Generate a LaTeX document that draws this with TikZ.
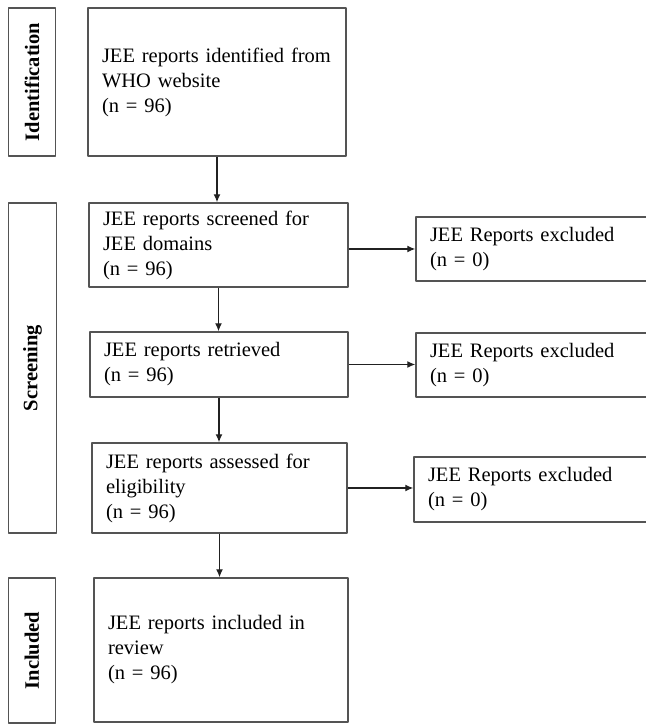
\documentclass[tikz,border=0pt]{standalone}
\usepackage{fontspec}
\setmainfont{Liberation Serif}
\usetikzlibrary{arrows.meta}

\begin{document}
\begin{tikzpicture}[>={Latex[length=8bp,width=7bp]},line join=bevel,
  stagelabel/.style={draw=boxcol,line width=1.4bp,rotate=90,inner sep=0pt,
    font=\fontsize{20.5bp}{25bp}\selectfont\bfseries},
  flowbox/.style={draw=boxcol,line width=1.4bp,inner xsep=14bp,inner ysep=0pt,
    align=left,font=\fontsize{20.5bp}{25bp}\selectfont},
  flowedge/.style={->,draw=edgecol,line width=1.3bp}]
\definecolor{boxcol}{rgb}{0.33,0.33,0.33}
\definecolor{edgecol}{rgb}{0.13,0.13,0.13}
\useasboundingbox (0bp,0bp) rectangle (646bp,725bp);

% Node: stage labels
\node[stagelabel,minimum width=148bp,minimum height=47bp] (identlab) at (32bp,643bp) {Identification};
\node[stagelabel,minimum width=330bp,minimum height=48bp] (screenlab) at (32.5bp,357bp) {Screening};
\node[stagelabel,minimum width=145bp,minimum height=47bp] (incllab) at (32bp,74.5bp) {Included};

% Node: identified
\node[flowbox,text width=230bp,minimum height=148bp] (identified) at (217bp,643bp)
  {JEE reports identified from\\WHO website\\(n = 96)};

% Node: screened
\node[flowbox,text width=231bp,minimum height=84bp] (screened) at (218.5bp,480bp)
  {JEE reports screened for\\JEE domains\\(n = 96)};

% Node: retrieved
\node[flowbox,text width=230bp,minimum height=65bp] (retrieved) at (219bp,360.5bp)
  {JEE reports retrieved\\(n = 96)};

% Node: assessed
\node[flowbox,text width=227bp,minimum height=90bp] (assessed) at (219.5bp,237bp)
  {JEE reports assessed for\\eligibility\\(n = 96)};

% Node: included
\node[flowbox,text width=226bp,minimum height=144bp] (included) at (221bp,75bp)
  {JEE reports included in\\review\\(n = 96)};

% Node: excluded
\node[flowbox,text width=216bp,minimum height=64bp] (excl1) at (538bp,476bp)
  {JEE Reports excluded\\(n = 0)};
\node[flowbox,text width=216bp,minimum height=64bp] (excl2) at (538bp,360bp)
  {JEE Reports excluded\\(n = 0)};
\node[flowbox,text width=218bp,minimum height=65bp] (excl3) at (537bp,235.5bp)
  {JEE Reports excluded\\(n = 0)};

% Edge: identified -> screened
\draw [flowedge] (identified.south) -- (identified.south |- screened.north);
% Edge: screened -> retrieved
\draw [flowedge] (screened.south) -- (screened.south |- retrieved.north);
% Edge: retrieved -> assessed
\draw [flowedge] (retrieved.south) -- (retrieved.south |- assessed.north);
% Edge: assessed -> included
\draw [flowedge] (assessed.south) -- (assessed.south |- included.north);

% Edge: screened -> excl1
\draw [flowedge] (screened.east |- excl1.west) -- (excl1.west);
% Edge: retrieved -> excl2
\draw [flowedge] (retrieved.east) -- (retrieved.east -| excl2.west);
% Edge: assessed -> excl3
\draw [flowedge] (assessed.east) -- (assessed.east -| excl3.west);
%
\end{tikzpicture}
\end{document}
